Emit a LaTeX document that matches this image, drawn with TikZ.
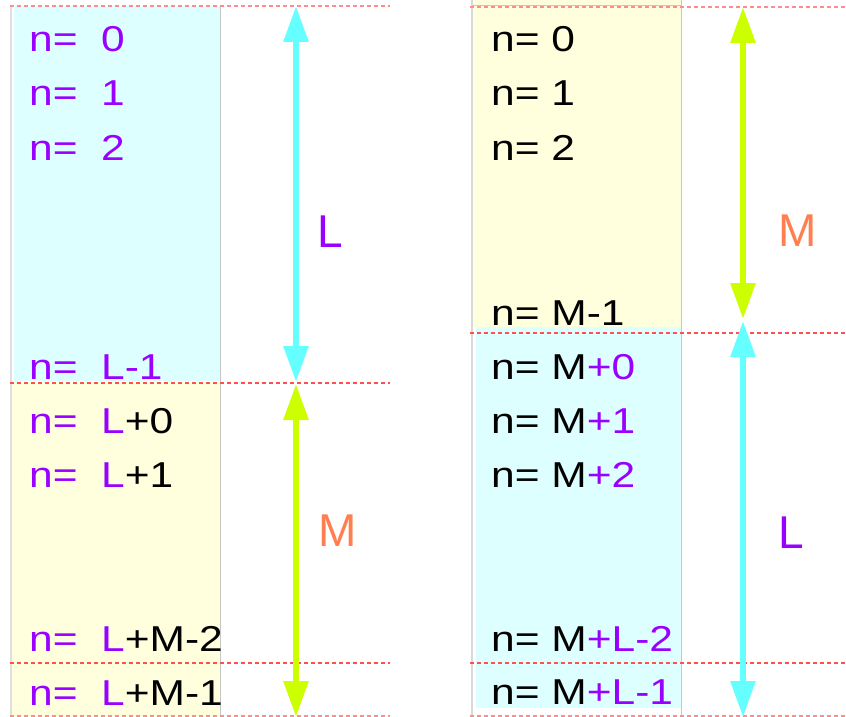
\documentclass[tikz,border=0pt]{standalone}
\usepackage{fontspec}
\setmainfont{Liberation Sans}
\newfontfamily\widefont[FakeStretch=1.18]{Liberation Sans}
\usetikzlibrary{arrows.meta}
\definecolor{pur}{RGB}{153,0,255}
\definecolor{cyfill}{RGB}{221,255,255}
\definecolor{yefill}{RGB}{255,255,221}
\definecolor{cyarr}{RGB}{102,255,255}
\definecolor{yearr}{RGB}{204,255,0}
\definecolor{coral}{RGB}{255,127,80}
\definecolor{dashred}{RGB}{255,80,80}
\definecolor{dashpink}{RGB}{255,140,140}
\begin{document}
\begin{tikzpicture}[x=1pt,y=-1pt,
 txt/.style={anchor=base west,inner sep=0pt,font=\widefont\fontsize{36}{40}\selectfont},
 lab/.style={anchor=base west,inner sep=0pt,font=\fontsize{46}{50}\selectfont},
 arr/.style={line width=6pt,{Triangle[length=36pt,width=24pt]}-{Triangle[length=36pt,width=24pt]}},
 sepline/.style={draw=dashred,line width=1.3pt,dash pattern=on 4pt off 3pt},
 sepedge/.style={draw=dashpink,line width=1.5pt,dash pattern=on 4pt off 3pt},
 panelline/.style={line width=1pt,draw=gray!45}]
\useasboundingbox (0,0) rectangle (846,717);
% left panel
\fill[cyfill] (14,6) rectangle (220,381);
\fill[yefill] (10,381) rectangle (220,717);
\draw[panelline,line width=2pt,draw=gray!25] (11,6) -- (11,717);
\draw[panelline] (220.5,6) -- (220.5,717);
% right panel
\fill[yefill] (472,0) rectangle (681,327);
\fill[cyfill] (476,327) rectangle (681,708);
\draw[panelline,line width=1.5pt,draw=gray!30] (472,0) -- (472,717);
\draw[panelline] (681,0) -- (681,717);
\draw[panelline] (472,5.5) -- (681,5.5);
% dashed separators
\draw[sepedge] (10,6) -- (390,6);
\draw[sepline] (10,383) -- (390,383);
\draw[sepline] (10,663) -- (390,663);
\draw[sepedge] (10,716) -- (390,716);
\draw[sepedge] (470,7) -- (846,7);
\draw[sepline] (470,333) -- (846,333);
\draw[sepline] (470,663) -- (846,663);
\draw[sepedge] (470,716) -- (846,716);
% arrows
\coordinate (la) at (296,6);
\coordinate (lb) at (296,382);
\coordinate (lc) at (296,384);
\coordinate (ld) at (296,717);
\coordinate (ra) at (743,7);
\coordinate (rb) at (743,319);
\coordinate (rc) at (743,321);
\coordinate (rd) at (743,717);
\draw[arr,cyarr] (la) -- (lb);
\draw[arr,yearr] (lc) -- (ld);
\draw[arr,yearr] (ra) -- (rb);
\draw[arr,cyarr] (rc) -- (rd);
% labels
\node[lab,text=pur] (lL) at (317,247) {L};
\node[lab,text=coral] (lM) at (318,546) {M};
\node[lab,text=coral] (rM) at (778.5,246) {M};
\node[lab,text=pur] (rL) at (778,548) {L};
% left texts
\node[txt,text=pur] (l0) at (29,52) {n=~~0};
\node[txt,text=pur] (l1) at (29,106) {n=~~1};
\node[txt,text=pur] (l2) at (29,160) {n=~~2};
\node[txt,text=pur] (l3) at (29,379) {n=~~L-1};
\node[txt] (l4) at (29,433) {{\color{pur}n=~~L}+0};
\node[txt] (l5) at (29,487) {{\color{pur}n=~~L}+1};
\node[txt] (l6) at (29,651) {{\color{pur}n=~~L}+M-2};
\node[txt] (l7) at (29,705) {{\color{pur}n=~~L}+M-1};
% right texts
\node[txt] (r0) at (491,52) {n= 0};
\node[txt] (r1) at (491,106) {n= 1};
\node[txt] (r2) at (491,160) {n= 2};
\node[txt] (r3) at (491,325) {n= M-1};
\node[txt] (r4) at (491,379) {n= M{\color{pur}+0}};
\node[txt] (r5) at (491,433) {n= M{\color{pur}+1}};
\node[txt] (r6) at (491,487) {n= M{\color{pur}+2}};
\node[txt] (r7) at (491,651) {n= M{\color{pur}+L-2}};
\node[txt] (r8) at (491,704) {n= M{\color{pur}+L-1}};
\end{tikzpicture}
\end{document}
